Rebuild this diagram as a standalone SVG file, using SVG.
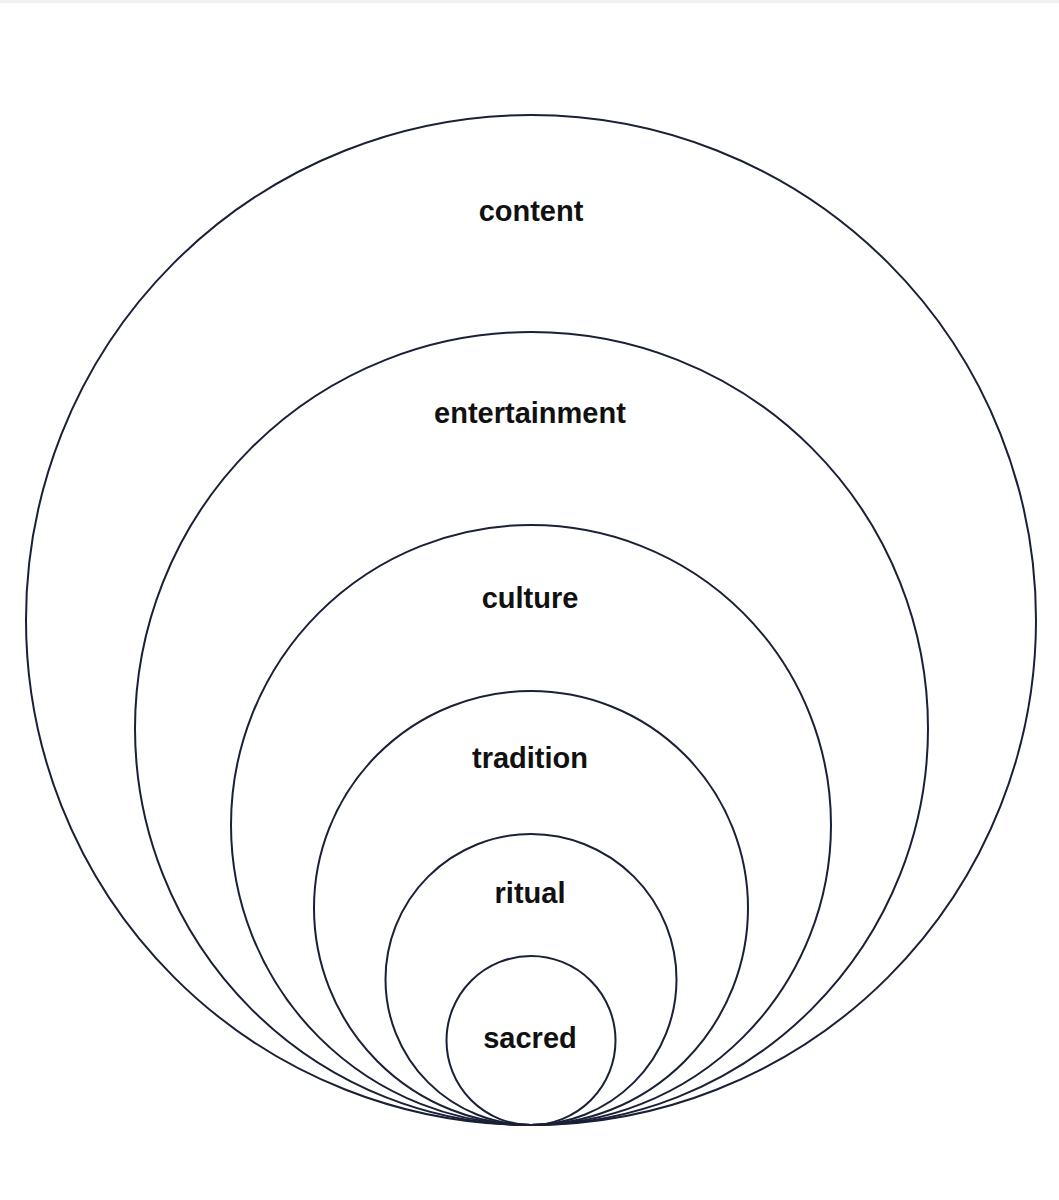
<svg xmlns="http://www.w3.org/2000/svg" width="1059" height="1200" viewBox="0 0 1059 1200">
<style>
.ring{fill:none;stroke:#1a2036;stroke-width:2}
.lbl{font-family:"Liberation Sans",Arial,sans-serif;font-weight:bold;font-size:29px;fill:#111;text-anchor:middle}
</style>
<rect x="0" y="0" width="1059" height="1200" fill="#ffffff"/>
<rect x="0" y="0" width="1059" height="3" fill="#f0f0f0"/>
<g id="content"><circle class="ring" cx="531" cy="620" r="505"/><text class="lbl" x="531" y="221">content</text></g>
<g id="entertainment"><circle class="ring" cx="531.5" cy="728.5" r="396.5"/><text class="lbl" x="530" y="423">entertainment</text></g>
<g id="culture"><circle class="ring" cx="531" cy="825" r="300"/><text class="lbl" x="530" y="608">culture</text></g>
<g id="tradition"><circle class="ring" cx="531" cy="908" r="217"/><text class="lbl" x="530" y="768">tradition</text></g>
<g id="ritual"><circle class="ring" cx="531" cy="979.5" r="145.5"/><text class="lbl" x="530" y="903">ritual</text></g>
<g id="sacred"><circle class="ring" cx="531" cy="1040.5" r="84.5"/><text class="lbl" x="530" y="1048">sacred</text></g>
<g id="connectors"></g>
</svg>
